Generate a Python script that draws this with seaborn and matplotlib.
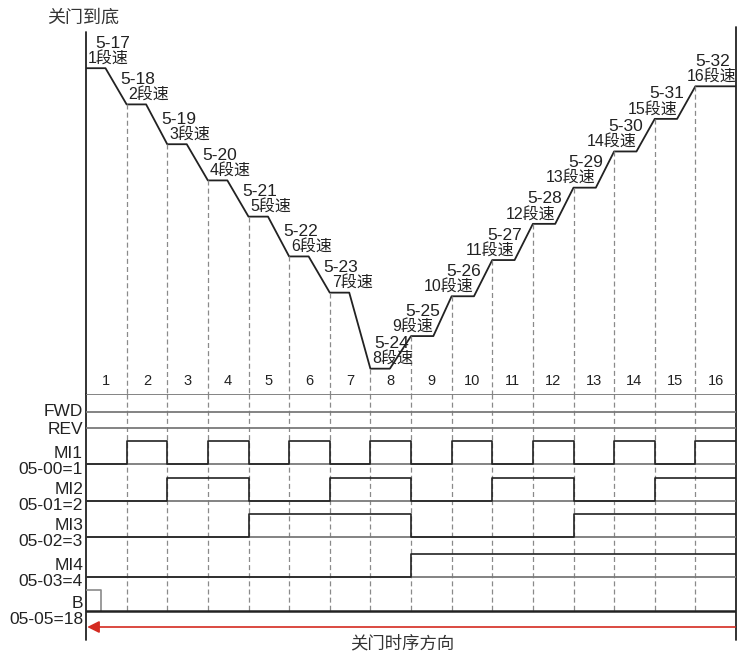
import matplotlib
matplotlib.use('Agg')
import matplotlib.pyplot as plt
import seaborn as sns

sns.set_theme(style="white")
plt.rcParams['font.family'] = ['Liberation Sans', 'Noto Sans CJK SC']

# Multi-step speed sequence (relative speed, % of plot height)
segments = list(range(1, 17))
param_codes = ['5-17', '5-18', '5-19', '5-20', '5-21', '5-22', '5-23', '5-24',
               '5-25', '5-26', '5-27', '5-28', '5-29', '5-30', '5-31', '5-32']
step_names = [f'{n}段速' for n in segments]
speed_levels = [90, 80, 69, 59, 49, 38, 28, 7, 16, 27, 37, 47, 57, 67, 76, 85]

# Multi-function input states for each segment
fwd_state = [0] * 16
rev_state = [0] * 16
mi1_state = [0, 1, 0, 1, 0, 1, 0, 1, 0, 1, 0, 1, 0, 1, 0, 1]
mi2_state = [0, 0, 1, 1, 0, 0, 1, 1, 0, 0, 1, 1, 0, 0, 1, 1]
mi3_state = [0, 0, 0, 0, 1, 1, 1, 1, 0, 0, 0, 0, 1, 1, 1, 1]
mi4_state = [0, 0, 0, 0, 0, 0, 0, 0, 1, 1, 1, 1, 1, 1, 1, 1]
b_pulse = [0.0, 0.37]   # B input on at start of segment 1

row_names = ['MI1', 'MI2', 'MI3', 'MI4']
row_params = ['05-00=1', '05-01=2', '05-02=3', '05-03=4']
row_states = [mi1_state, mi2_state, mi3_state, mi4_state]

# layout (pixel offsets below the top signal line)
row_low = [70, 107, 143, 183]
amp = 23
fwd_y, rev_y, b_low, b_high = 18, 34, 217, 196
arrow_y, axis_end = 233, 246

dark = '#222222'
gray = '#7a7a7a'
dash_col = '#8a8a8a'
dash_ls = (0, (4, 2.5))

fig = plt.figure(figsize=(7.37, 6.52), dpi=100)
W, H = 737, 652
x0, x1 = 86, 736
ax_top = fig.add_axes([x0 / W, (H - 394) / H, (x1 - x0) / W, 362 / H])
ax_bot = fig.add_axes([x0 / W, 0, (x1 - x0) / W, 258 / H])
for ax in (ax_top, ax_bot):
    ax.set_xlim(0, 16)
    ax.axis('off')
ax_top.set_ylim(0, 100)
ax_bot.set_ylim(258, 0)

# speed curve: flat part then ramp into the next step
xs, ys = [], []
for i, lv in enumerate(speed_levels):
    flat = 0.48 if i < 8 else 0.55
    xs += [i, i + flat]
    ys += [lv, lv]
xs.append(16)
ys.append(speed_levels[-1])
sns.lineplot(x=xs, y=ys, ax=ax_top, color=dark, lw=1.3, estimator=None, sort=False)

# step labels
for i, lv in enumerate(speed_levels):
    flat = 0.48 if i < 8 else 0.55
    if i < 8:
        cx = 9 if i == 0 else (4 if i == 7 else -6)
        ax_top.annotate(step_names[i], (i, lv), xytext=(2, 10), textcoords='offset pixels',
                        ha='left', va='center', fontsize=11.5, color=dark)
        ax_top.annotate(param_codes[i], (i, lv), xytext=(cx, 25), textcoords='offset pixels',
                        ha='left', va='center', fontsize=12.5, color=dark)
    else:
        xe = 16 if i == 15 else i + flat
        cx = -6 if i == 15 else 7
        ax_top.annotate(step_names[i], (xe, lv), xytext=(0, 10), textcoords='offset pixels',
                        ha='right', va='center', fontsize=11.5, color=dark)
        ax_top.annotate(param_codes[i], (xe, lv), xytext=(cx, 25), textcoords='offset pixels',
                        ha='right', va='center', fontsize=12.5, color=dark)

# segment numbers
for i, n in enumerate(segments):
    ax_top.annotate(str(n), (i + 0.5, 0), xytext=(0, 13), textcoords='offset pixels',
                    ha='center', va='center', fontsize=10.5, color=dark)

# dashed segment boundaries
for k in range(1, 16):
    ax_top.plot([k, k], [speed_levels[k], 0], color=dash_col, lw=0.9, ls=dash_ls)
    ax_bot.plot([k, k], [0, b_low], color=dash_col, lw=0.9, ls=dash_ls)

# frame lines
ax_top.plot([0, 0], [0, 100], color=dark, lw=1.3, clip_on=False)
ax_top.plot([16, 16], [0, 101.5], color=dark, lw=1.3, clip_on=False)
ax_bot.plot([0, 0], [0, axis_end], color=dark, lw=1.3, clip_on=False)
ax_bot.plot([16, 16], [0, axis_end], color=dark, lw=1.3, clip_on=False)

# signal rows
t_edges = list(range(17))
ax_bot.plot([0, 16], [0, 0], color=gray, lw=1.3)
ax_bot.plot([0, 16], [fwd_y, fwd_y], color=gray, lw=1.3)
ax_bot.plot([0, 16], [rev_y, rev_y], color=gray, lw=1.3)
for low, st in zip(row_low, row_states):
    ax_bot.plot([0, 16], [low, low], color=gray, lw=1.3)
    yy = [low - amp * s for s in st] + [low - amp * st[-1]]
    sns.lineplot(x=t_edges, y=yy, ax=ax_bot, color=dark, lw=1.2, drawstyle='steps-post',
                 estimator=None, sort=False)

ax_bot.plot([0, b_pulse[1], b_pulse[1]], [b_high, b_high, b_low], color='#8a8a8a', lw=1.2)
ax_bot.plot([0, 16], [b_low, b_low], color=dark, lw=1.8)

# left labels
lab = dict(ha='right', va='center', fontsize=12.5, color=dark, textcoords='offset pixels')
ax_bot.annotate('FWD', (0, fwd_y), xytext=(-3, 0), **lab)
ax_bot.annotate('REV', (0, rev_y + 2), xytext=(-3, 0), **lab)
for low, nm, pr in zip(row_low, row_names, row_params):
    ax_bot.annotate(nm, (0, low - 11), xytext=(-3, 0), **lab)
    ax_bot.annotate(pr, (0, low + 5), xytext=(-3, 0), **lab)
ax_bot.annotate('B', (0, b_low - 8), xytext=(-3, 0), **lab)
ax_bot.annotate('05-05=18', (0, b_low + 8), xytext=(-3, 0), **lab)

# direction arrow
ax_bot.annotate('', xy=(0.03, arrow_y), xytext=(15.98, arrow_y),
                arrowprops=dict(arrowstyle='-|>,head_length=0.6,head_width=0.3',
                                color='#d42a20', lw=1.2, shrinkA=0, shrinkB=0))
ax_bot.text(7.78, 249, '关门时序方向', ha='center', va='center', fontsize=12.5, color='#333333')
ax_top.annotate('关门到底', (0, 100), xytext=(-3, 14), textcoords='offset pixels',
                ha='center', va='center', fontsize=13, color='#333333', annotation_clip=False)

fig.savefig('out.png', dpi=100)
